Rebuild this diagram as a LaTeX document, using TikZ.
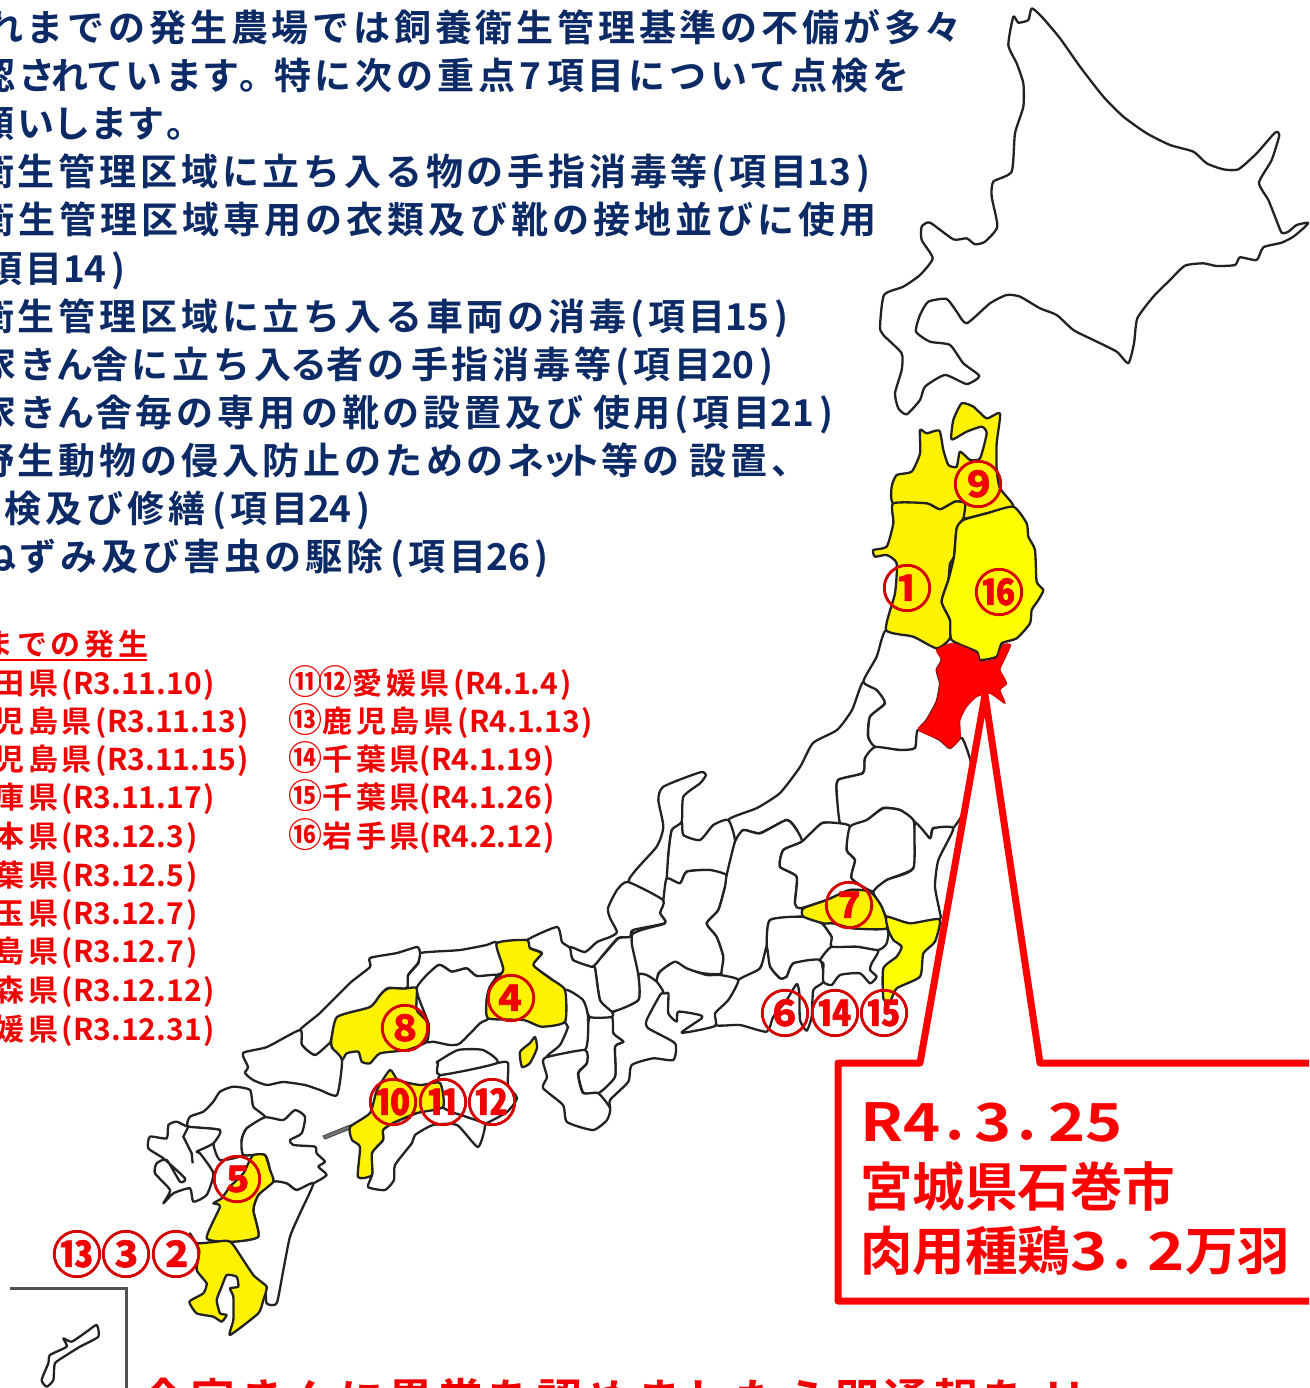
\documentclass[tikz,border=0pt]{standalone}
\usepackage{fontspec}
\newfontfamily\navyfont[LetterSpace=10.3]{Noto Sans CJK JP Bold}
\newfontfamily\navyfontB[LetterSpace=11]{Noto Sans CJK JP Bold}
\newfontfamily\plainjp{Noto Sans CJK JP Bold}
\newfontfamily\listfont[LetterSpace=13]{Noto Sans CJK JP Bold}
\newfontfamily\boxfont{Noto Sans CJK JP Bold}
\newfontfamily\boxlat[FakeStretch=1.2]{Noto Sans CJK JP Bold}
\newfontfamily\bottomfont[LetterSpace=10]{Noto Sans CJK JP Bold}
\newfontfamily\numfont[FakeBold=1.2]{Noto Sans CJK JP Bold}
\definecolor{navy}{HTML}{0B2A66}
\definecolor{listred}{HTML}{F00000}
\definecolor{ringred}{HTML}{D40000}
\definecolor{maplinecol}{HTML}{222222}
\definecolor{yelA}{HTML}{FFFF00}
\definecolor{yelB}{HTML}{FFF200}
\tikzset{
  zoomat/.style 2 args={x=.33333pt,y=-.33333pt,shift={(#1pt,-#2pt)}},
  pref/.style={draw=maplinecol,line width=2.3pt,line join=round,fill=white},
  prefY/.style={pref,fill=yelA},
  prefO/.style={pref,fill=yelB},
  prefR/.style={fill=red,draw=red!85!black,line width=1pt,line join=round},
  headline/.style={anchor=base west,inner sep=0,text=navy,font=\fontsize{37}{37}\navyfont},
  listline/.style={anchor=base west,inner sep=0,text=listred,font=\fontsize{30}{30}\listfont},
  boxline/.style={anchor=base west,inner sep=0,text=red,font=\fontsize{52.5}{52.5}\boxfont},
  numring/.style={inner sep=0,text=listred,font=\fontsize{50}{50}\numfont},
}
\newcommand{\ppoly}[2]{\path[#1] plot[smooth cycle,tension=.35] coordinates {#2};}
\newcommand{\HL}[1]{{\plainjp #1}}
\newcommand{\po}{(\kern4pt}
\newcommand{\pc}{\kern5pt)}
\newcommand{\LL}[1]{({\plainjp #1\kern2pt)}}
\newcommand{\LN}[1]{{\plainjp (#1\kern1pt)}}
\newcommand{\RG}[1]{{\fontsize{34}{34}\selectfont #1}}
\newcommand{\BL}[1]{{\boxlat #1}}
\newcommand{\ringnum}[4]{\node[numring] (#1) at (#2,#3) {#4};\draw[ringred,line width=2.6pt] (#1.center) circle[radius=22.8];}
\begin{document}
\begin{tikzpicture}[x=1pt,y=-1pt]
\useasboundingbox (0,0) rectangle (1309,1388);
\clip (0,0) rectangle (1309,1388);
\fill[white] (0,0) rectangle (1309,1388);

% Hokkaido
\begin{scope}[zoomat={860}{0}]
\ppoly{pref}{(515,25)(545,50)(600,115)(660,200)(730,290)(790,350)(860,400)(930,435)(1000,455)(1040,490)(1090,508)(1135,508)(1190,460)(1245,398)(1258,405)(1235,480)(1197,548)(1225,600)(1245,650)(1265,698)(1285,695)(1310,675)(1345,668)(1330,685)(1300,710)(1265,728)(1210,742)(1190,780)(1140,772)(1125,795)(1070,798)(1030,790)(975,797)(930,840)(880,890)(832,955)(822,1030)(805,1090)(770,1055)(700,1020)(640,990)(590,945)(540,925)(480,890)(440,885)(390,910)(320,970)(290,935)(260,897)(205,905)(180,945)(168,995)(210,1025)(270,1035)(310,1090)(358,1128)(320,1152)(255,1125)(195,1160)(180,1200)(140,1243)(115,1225)(105,1180)(125,1110)(125,1060)(70,1005)(60,980)(72,885)(130,860)(180,825)(218,775)(185,720)(185,680)(210,668)(280,718)(320,715)(345,733)(375,725)(412,680)(395,590)(400,545)(455,515)(465,400)(490,320)(490,250)(470,190)(445,135)(460,50)(475,68)(505,60)}
\end{scope}

% Niigata
\ppoly{pref}{(863,682)(852,710)(837,730)(813,743)(800,767)(780,793)(757,808)(728,820)(735,842)(743,830)(760,833)(787,820)(797,830)(802,842)(822,823)(840,823)(837,797)(838,780)(863,773)(865,758)(875,747)(868,737)(870,717)(885,703)(877,690)}
% Yamagata, Fukushima
\begin{scope}[zoomat={780}{400}]
\ppoly{pref}{(318,690)(400,710)(470,745)(485,780)(470,810)(480,850)(470,905)(440,960)(415,990)(405,1045)(360,1050)(285,1040)(265,1010)(270,950)(315,910)(290,870)(250,845)(290,770)}
\end{scope}
\ppoly{pref}{(875,747)(900,750)(915,748)(918,730)(940,740)(950,748)(962,738)(972,767)(970,800)(953,828)(933,828)(930,838)(913,820)(900,810)(883,808)(867,820)(850,827)(840,823)(837,797)(838,780)(863,773)(865,758)}
\begin{scope}[zoomat={600}{760}]
% Toyama
\ppoly{pref}{(385,180)(340,195)(300,240)(250,225)(245,185)(215,210)(205,280)(200,355)(240,370)(260,335)(330,330)(380,345)(405,245)}
% Ishikawa
\ppoly{pref}{(245,185)(250,110)(300,70)(318,45)(300,37)(190,80)(175,120)(190,200)(170,260)(85,365)(190,420)(200,355)(205,280)(215,210)}
% Gifu
\ppoly{pref}{(200,355)(240,370)(260,335)(330,330)(380,345)(375,380)(355,450)(320,490)(350,530)(370,590)(365,640)(310,640)(250,625)(215,610)(175,640)(170,660)(110,650)(95,525)(195,490)(180,460)(190,420)}
% Nagano
\ppoly{pref}{(405,245)(430,210)(480,220)(560,180)(590,210)(605,245)(550,270)(540,320)(590,350)(585,430)(605,445)(610,470)(510,480)(500,560)(480,625)(415,660)(365,650)(370,590)(350,530)(320,490)(355,450)(375,380)(380,345)}
% Yamanashi
\ppoly{pref}{(510,480)(610,470)(665,490)(695,530)(695,560)(660,600)(580,610)(560,650)(540,655)(510,620)(500,560)}
% Shizuoka
\ppoly{pref}{(415,660)(480,625)(500,560)(510,620)(540,655)(560,650)(580,610)(660,600)(670,665)(640,690)(635,770)(620,812)(600,780)(598,700)(590,672)(560,720)(520,770)(500,815)(420,795)(345,795)(350,740)}
% Kanagawa
\ppoly{pref}{(670,610)(660,600)(695,560)(770,560)(835,570)(815,610)(810,630)(830,650)(810,670)(780,640)(720,645)(695,675)(670,665)}
% Tokyo
\ppoly{pref}{(670,490)(700,490)(760,505)(860,505)(860,550)(835,570)(770,560)(695,560)(695,530)}
% Gunma
\ppoly{pref}{(605,245)(665,190)(720,190)(750,200)(740,270)(765,300)(755,355)(810,395)(750,390)(680,420)(600,445)(585,430)(590,350)(540,320)(550,270)}
% Tochigi
\ppoly{pref}{(750,200)(800,180)(850,145)(900,150)(940,180)(945,240)(940,325)(860,360)(820,395)(755,355)(765,300)(740,270)}
% Ibaraki
\ppoly{pref}{(820,395)(860,360)(940,325)(945,190)(990,235)(1000,205)(1060,205)(1015,300)(1005,380)(1020,460)(1018,478)(930,490)(860,470)(845,440)}
% Saitama
\ppoly{prefO}{(610,445)(680,420)(750,390)(810,395)(845,440)(860,505)(760,505)(700,490)(670,490)(610,470)}
% Chiba
\ppoly{prefY}{(860,470)(930,490)(1018,478)(1005,545)(970,580)(960,650)(890,685)(870,725)(850,715)(850,625)(890,590)(905,560)(880,540)(865,510)}
\end{scope}

% Aichi, Mie, Shiga, Nara
\begin{scope}[zoomat={560}{900}]
\ppoly{pref}{(290,245)(300,215)(345,185)(380,205)(440,225)(480,225)(535,240)(505,300)(465,340)(465,378)(365,398)(425,355)(420,345)(355,335)(350,365)(325,340)(325,280)(310,280)}
\ppoly{pref}{(235,225)(260,225)(290,245)(310,275)(300,285)(260,360)(265,385)(345,430)(340,480)(280,475)(215,495)(205,545)(150,600)(150,625)(115,580)(165,530)(165,440)(190,425)(160,400)(155,340)(235,300)}
\ppoly{pref}{(218,90)(215,130)(235,225)(235,300)(155,335)(120,300)(105,205)(95,200)(130,165)(175,115)(210,110)}
\ppoly{pref}{(90,350)(155,350)(160,400)(190,425)(165,440)(165,530)(115,580)(70,578)(55,520)(80,490)(75,450)}
\end{scope}
% Fukui, Kyoto, Osaka, Wakayama in page pixels
\ppoly{pref}{(628,882)(617,890)(608,908)(610,918)(617,932)(610,937)(597,942)(585,952)(570,947)(573,960)(592,967)(603,955)(618,938)(630,937)(633,930)(665,923)(660,913)(663,900)}
\ppoly{pref}{(527,940)(557,927)(562,942)(570,948)(573,960)(592,967)(595,968)(600,1000)(612,1012)(612,1017)(590,1017)(583,1002)(567,997)(565,990)(550,978)(533,965)(542,953)(530,948)}
\ppoly{pref}{(565,990)(583,1000)(588,1017)(585,1050)(547,1057)(560,1045)(568,1027)(565,1022)}
\ppoly{pref}{(547,1057)(585,1050)(587,1063)(578,1073)(583,1093)(598,1093)(610,1108)(607,1120)(593,1130)(567,1122)(563,1105)(543,1088)(547,1077)(543,1062)}

% Western Honshu
\begin{scope}[zoomat={320}{920}]
% Tottori
\ppoly{pref}{(300,100)(340,95)(420,90)(500,75)(530,68)(550,150)(530,165)(470,168)(440,145)(395,155)(355,135)(290,205)(260,205)(265,165)(295,130)}
% Okayama
\ppoly{pref}{(290,205)(355,135)(395,155)(440,145)(470,168)(530,165)(510,200)(500,240)(505,295)(480,310)(420,370)(390,375)(340,365)(320,365)(325,310)}
% Hiroshima
\ppoly{prefO}{(260,205)(290,205)(290,270)(325,310)(320,365)(260,390)(180,400)(150,430)(125,425)(115,395)(80,400)(65,420)(35,380)(35,350)(50,290)(150,260)(180,225)(205,205)}
% Hyogo
\ppoly{prefO}{(530,70)(620,60)(630,85)(665,100)(640,135)(690,175)(735,210)(735,305)(665,320)(610,300)(505,295)(500,240)(510,200)(550,150)}
\end{scope}
% Shimane, Yamaguchi
\ppoly{pref}{(420,953)(417,947)(397,953)(370,958)(370,967)(350,983)(320,1013)(300,1030)(302,1045)(315,1055)(330,1043)(337,1017)(370,1007)(380,995)(388,988)(407,988)(408,975)(418,963)}
\ppoly{pref}{(243,1053)(267,1047)(300,1030)(302,1045)(315,1055)(330,1043)(332,1048)(342,1060)(337,1095)(320,1090)(305,1085)(283,1082)(267,1085)(253,1080)(245,1073)(248,1067)}

% Shikoku
\ppoly{pref}{(485,1123)(478,1147)(457,1125)(433,1125)(415,1135)(412,1143)(395,1165)(394,1180)(385,1190)(368,1187)(372,1175)(372,1153)(383,1140)(383,1130)(393,1123)(417,1113)(443,1107)(467,1117)}
\ppoly{pref}{(497,1063)(508,1063)(508,1085)(517,1098)(507,1112)(487,1123)(485,1123)(467,1117)(443,1107)(440,1075)}
\ppoly{pref}{(440,1075)(438,1063)(437,1062)(458,1050)(483,1050)(497,1063)}
\path[draw=black!70,fill=black!55,line width=1pt] (323,1136) -- (350,1125) -- (350,1129) -- (325,1139) -- cycle;
\ppoly{prefO}{(350,1127)(370,1113)(377,1090)(390,1070)(398,1080)(420,1085)(440,1083)(443,1107)(417,1113)(393,1123)(383,1130)(383,1140)(372,1153)(372,1175)(358,1177)(360,1147)(352,1140)}
% Awaji
\ppoly{prefO}{(535,1037)(537,1048)(530,1063)(522,1067)(520,1052)(530,1043)}

% Kyushu and Okinawa
\begin{scope}[zoomat={0}{1030}]
% Fukuoka
\ppoly{pref}{(565,290)(570,260)(610,245)(640,215)(660,185)(700,170)(750,180)(760,230)(795,262)(740,295)(725,330)(730,375)(660,390)(640,340)(660,300)}
% Oita
\ppoly{pref}{(795,262)(850,270)(885,240)(915,260)(905,310)(870,330)(880,345)(945,350)(950,370)(975,395)(955,410)(980,435)(940,460)(890,480)(860,460)(820,455)(810,420)(795,375)(730,375)(725,330)(740,295)}
% Saga + Nagasaki
\ppoly{pref}{(450,320)(445,355)(490,385)(555,445)(540,455)(500,390)(470,400)(465,430)(510,480)(490,520)(520,490)(570,475)(580,515)(620,495)(640,430)(600,370)(590,365)(640,340)(660,300)(565,290)(530,275)(505,285)(500,325)}
\draw[maplinecol,line width=2.3pt] (565,290) -- (550,320) -- (575,370) -- (578,400);
% Miyazaki
\ppoly{pref}{(820,455)(860,460)(890,480)(940,460)(900,550)(870,620)(850,720)(830,820)(800,820)(795,770)(760,740)(690,640)(700,635)(775,620)(760,540)(775,495)}
% Kumamoto
\ppoly{prefO}{(760,375)(795,375)(810,420)(820,455)(775,495)(760,540)(775,620)(700,635)(620,625)(660,530)(640,520)(665,505)(690,470)(730,430)(745,400)}
% Kagoshima
\path[prefO] plot[smooth cycle,tension=.3] coordinates {(570,610)(590,640)(680,632)(700,645)(760,735)(800,770)(790,810)(775,850)(690,915)(700,870)(700,800)(690,775)(715,770)(710,740)(680,735)(665,770)(650,810)(660,850)(680,855)(665,875)(640,860)(590,850)(568,815)(610,790)(620,760)(590,720)(598,660)};
% Okinawa
\ppoly{pref}{(290,885)(295,920)(240,950)(200,975)(165,1000)(160,1050)(140,1070)(125,1050)(145,1000)(150,975)(200,950)(190,925)(215,935)(260,905)}
\draw[draw=black!68,line width=2.6pt] (30,775) -- (380,775) -- (380,1090);
\end{scope}

% Tohoku coloured
\begin{scope}[zoomat={780}{400}]
\ppoly{prefO}{(340,310)(335,260)(350,225)(395,215)(420,160)(420,90)(440,100)(478,92)(490,150)(505,195)(530,200)(540,155)(570,180)(600,175)(620,100)(605,80)(560,95)(515,118)(520,60)(545,10)(580,20)(620,55)(660,40)(650,130)(650,210)(660,265)(700,320)(620,340)(550,355)(555,310)(525,305)(480,328)(440,310)}
\ppoly{prefO}{(340,310)(440,310)(480,328)(525,305)(555,310)(550,355)(530,385)(522,470)(510,490)(505,540)(485,605)(510,660)(510,715)(470,745)(400,710)(318,690)(345,580)(350,490)(320,465)(285,470)(280,450)(320,440)(340,370)}
\ppoly{prefY}{(550,360)(620,340)(700,320)(740,370)(745,410)(765,450)(770,545)(790,570)(775,600)(755,630)(750,670)(710,715)(665,730)(650,770)(600,780)(590,755)(515,720)(510,660)(485,605)(505,540)(522,470)(530,385)}
\ppoly{prefR}{(520,730)(590,760)(600,785)(650,775)(668,735)(692,735)(670,785)(660,810)(680,850)(660,870)(675,910)(630,880)(590,890)(560,920)(540,960)(540,1015)(510,1045)(480,1020)(415,990)(440,960)(470,905)(480,850)(470,810)(485,780)(470,750)}
\end{scope}

% Headline text
\node[headline] (h1) at (-14,42) {れまでの発生農場では飼養衛生管理基準の不備が多々};
\node[headline] (h2) at (-22,90) {認さ\kern-5ptれ\kern-2ptて\kern3ptい\kern3ptま\kern-1ptす。\kern-2pt特に次の重点\kern4pt\HL{7}\kern6pt項目について点検を};
\node[headline] (h3) at (-23,138) {願い\kern-2ptし\kern1ptま\kern0ptす\kern1pt。};
\node[headline] (h4) at (-23,186) {衛生管理区域に立ち入る物の手指消毒等\po 項目\HL{13}\pc};
\node[headline] (h5) at (-23,234) {\navyfontB 衛生管理区域専用の衣類及び靴の接地並びに使用};
\node[headline] (h6) at (-15,282) {項目\HL{14}\pc};
\node[headline] (h7) at (-23,330) {衛生管理区域に立ち入る車両の消毒\po 項目\HL{15}\pc};
\node[headline] (h8) at (-21,378) {家き\kern-1ptん\kern-2pt舎に立ち入\kern-1ptる\kern-1pt者の\kern7pt手指消毒等\kern4pt\po 項目\HL{20}\pc};
\node[headline] (h9) at (-21,426) {家き\kern0ptん\kern1pt舎毎の専用\kern6pt の靴の設置及び\kern10pt使用\kern4pt\po 項目\HL{21}\pc};
\node[headline] (h10) at (-23,474) {野生動物の侵入防止のためのネ\kern-3ptッ\kern-14ptト\kern0pt等の\kern10pt設置、};
\node[headline] (h11) at (-36,522) {点検及び修繕\kern7pt\po 項目\HL{24}\pc};
\node[headline] (h12) at (-21,570) {ねずみ及び害虫の駆除\kern7pt\po 項目\HL{26}\pc};

% List
\node[listline] (ltitle) at (-17,655) {までの発生};
\coordinate (ulL) at (0,659.5);
\coordinate (ulR) at (147,659.5);
\draw[listred,line width=2pt] (ulL) -- (ulR);
\node[listline] (a1) at (-6,694) {田県\LL{R3.11.10}};
\node[listline] (a2) at (-6,732) {児島県\LL{R3.11.13}};
\node[listline] (a3) at (-6,770) {児島県\LL{R3.11.15}};
\node[listline] (a4) at (-6,808) {庫県\LL{R3.11.17}};
\node[listline] (a5) at (-6,847) {本県\LL{R3.12.3}};
\node[listline] (a6) at (-6,886) {葉県\LL{R3.12.5}};
\node[listline] (a7) at (-6,924) {玉県\LL{R3.12.7}};
\node[listline] (a8) at (-6,962) {島県\LL{R3.12.7}};
\node[listline] (a9) at (-6,1001) {森県\LL{R3.12.12}};
\node[listline] (a10) at (-6,1040) {媛県\LL{R3.12.31}};
\node[listline] (b1) at (288,694) {\RG{⑪}\kern-4pt\RG{⑫}愛媛県\LL{R4.1.4}};
\node[listline] (b2) at (288,732) {\RG{⑬}鹿児島県\LL{R4.1.13}};
\node[listline] (b3) at (288,770) {\RG{⑭}千葉県\LN{R4.1.19}};
\node[listline] (b4) at (288,808) {\RG{⑮}千葉県\LN{R4.1.26}};
\node[listline] (b5) at (288,847) {\RG{⑯}岩手県\LN{R4.2.12}};

% Callout
\path[fill=white,draw=red,line width=7pt,line join=round] (838,1063) -- (920,1063) -- (985,695) -- (1040,1063) -- (1330,1063) -- (1330,1301) -- (838,1301) -- cycle;
\node[boxline] (c1) at (860,1141) {\BL{R4}．\kern-18pt\BL{3}．\kern-16pt\BL{25}};
\node[boxline] (c2) at (860,1206) {宮城県石巻市};
\node[boxline] (c3) at (860,1270) {肉用種鶏\BL{3}．\kern-12pt\BL{2}万羽};

% Number rings
\ringnum{n9}{978}{484}{⑨}
\ringnum{n1}{907}{588}{①}
\ringnum{n16}{999}{592}{⑯}
\ringnum{n7}{849}{905}{⑦}
\ringnum{n6}{785}{1013}{⑥}
\ringnum{n14}{835}{1013}{⑭}
\ringnum{n15}{884}{1013}{⑮}
\ringnum{n4}{511}{998}{④}
\ringnum{n8}{405}{1028}{⑧}
\ringnum{n10}{393}{1102}{⑩}
\ringnum{n11}{443}{1102}{⑪}
\ringnum{n12}{492}{1102}{⑫}
\ringnum{n5}{237}{1179}{⑤}
\ringnum{n13}{77}{1254}{⑬}
\ringnum{n3}{126}{1254}{③}
\ringnum{n2}{176}{1254}{②}

% Bottom line
\node[anchor=base west,inner sep=0,text=listred,font=\fontsize{45}{45}\bottomfont] (bot) at (141,1416) {全家きんに異常を認めましたら即通報を\kern18pt!!};
\end{tikzpicture}
\end{document}
